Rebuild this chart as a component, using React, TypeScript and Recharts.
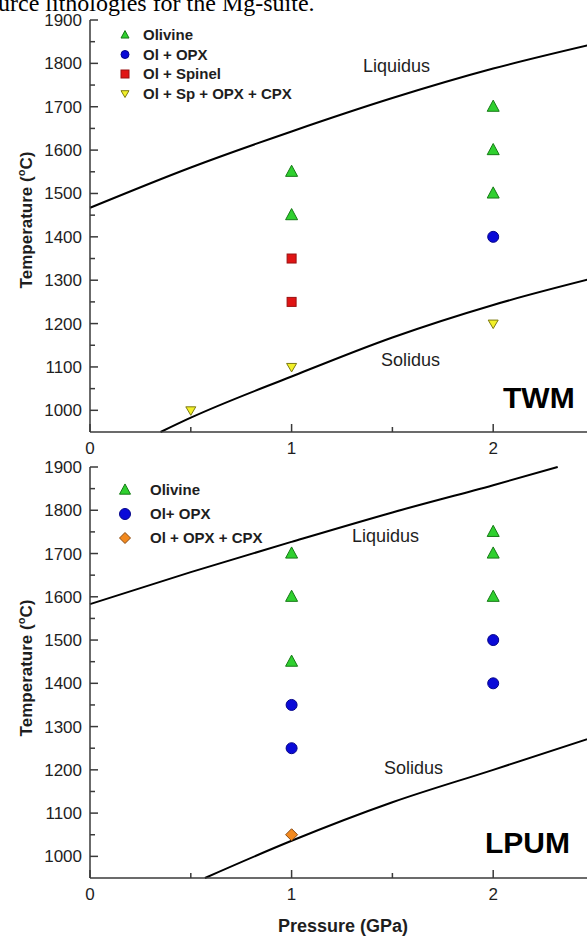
import React from "react";
import { ComposedChart, Line, Scatter, XAxis, YAxis } from "recharts";

// pressure (GPa) / temperature (C)
const X_TICKS = [0, 0.5, 1, 1.5, 2, 2.5];
const Y_TICKS = [1000, 1050, 1100, 1150, 1200, 1250, 1300, 1350, 1400, 1450, 1500, 1550, 1600, 1650, 1700, 1750, 1800, 1850, 1900];

// TWM panel
const twmLiquidus = [
  { p: 0, t: 1467 },
  { p: 0.5, t: 1560 },
  { p: 1, t: 1643 },
  { p: 1.5, t: 1720 },
  { p: 2, t: 1788 },
  { p: 2.5, t: 1845 },
];
const twmSolidus = [
  { p: 0.35, t: 950 },
  { p: 0.5, t: 983 },
  { p: 1, t: 1078 },
  { p: 1.5, t: 1168 },
  { p: 2, t: 1243 },
  { p: 2.5, t: 1305 },
];
const twmOlivine = [
  { p: 1, t: 1550 },
  { p: 1, t: 1450 },
  { p: 2, t: 1700 },
  { p: 2, t: 1600 },
  { p: 2, t: 1500 },
];
const twmOlOpx = [{ p: 2, t: 1400 }];
const twmOlSpinel = [
  { p: 1, t: 1350 },
  { p: 1, t: 1250 },
];
const twmOlSpOpxCpx = [
  { p: 0.5, t: 1000 },
  { p: 1, t: 1100 },
  { p: 2, t: 1200 },
];

// LPUM panel
const lpumLiquidus = [
  { p: 0, t: 1583 },
  { p: 0.5, t: 1657 },
  { p: 1, t: 1727 },
  { p: 1.5, t: 1795 },
  { p: 2, t: 1858 },
  { p: 2.32, t: 1900 },
];
const lpumSolidus = [
  { p: 0.57, t: 950 },
  { p: 1, t: 1036 },
  { p: 1.5, t: 1125 },
  { p: 2, t: 1200 },
  { p: 2.5, t: 1276 },
];
const lpumOlivine = [
  { p: 1, t: 1700 },
  { p: 1, t: 1600 },
  { p: 1, t: 1450 },
  { p: 2, t: 1750 },
  { p: 2, t: 1700 },
  { p: 2, t: 1600 },
];
const lpumOlOpx = [
  { p: 1, t: 1350 },
  { p: 1, t: 1250 },
  { p: 2, t: 1500 },
  { p: 2, t: 1400 },
];
const lpumOlOpxCpx = [{ p: 1, t: 1050 }];

const twmLegend = [
  { name: "Olivine", kind: "up" },
  { name: "Ol + OPX", kind: "circle" },
  { name: "Ol + Spinel", kind: "square" },
  { name: "Ol + Sp + OPX + CPX", kind: "down" },
];
const lpumLegend = [
  { name: "Olivine", kind: "up" },
  { name: "Ol+ OPX", kind: "circle" },
  { name: "Ol + OPX + CPX", kind: "diamond" },
];

const AXIS = "#3a3a3a";
const TEXT = "#1e1e1e";
const FONT = "'Liberation Sans', Arial, sans-serif";

const STYLES: Record<string, { fill: string; stroke: string }> = {
  up: { fill: "#2fd02f", stroke: "#167a16" },
  circle: { fill: "#0a0ad8", stroke: "#05058a" },
  square: { fill: "#e01414", stroke: "#9a1010" },
  down: { fill: "#f2f028", stroke: "#7d7a10" },
  diamond: { fill: "#f2891e", stroke: "#8a4a12" },
};

const Marker = ({ kind, cx, cy, s }: any) => {
  const st = STYLES[kind];
  const common = { fill: st.fill, stroke: st.stroke, strokeWidth: 1 };
  if (kind === "up") {
    const pts = `${cx},${cy - s * 0.55} ${cx - s / 2},${cy + s * 0.38} ${cx + s / 2},${cy + s * 0.38}`;
    return <polygon points={pts} {...common} />;
  }
  if (kind === "down") {
    const pts = `${cx},${cy + s * 0.5} ${cx - s / 2},${cy - s * 0.35} ${cx + s / 2},${cy - s * 0.35}`;
    return <polygon points={pts} {...common} />;
  }
  if (kind === "circle") return <circle cx={cx} cy={cy} r={s / 2} {...common} />;
  if (kind === "square") return <rect x={cx - s / 2} y={cy - s / 2} width={s} height={s} {...common} />;
  const h = s / 2;
  return <polygon points={`${cx},${cy - h} ${cx + h},${cy} ${cx},${cy + h} ${cx - h},${cy}`} {...common} />;
};

const shapeOf = (kind: string, s: number) => (props: any) =>
  <Marker kind={kind} cx={props.cx} cy={props.cy} s={s} />;

// ticks all point into the plot, like Origin does
const BottomTick = ({ x, y, payload }: any) => {
  const major = Number.isInteger(payload.value);
  return (
    <g>
      <line x1={x} y1={y} x2={x} y2={y - (major ? 8 : 5)} stroke={AXIS} strokeWidth={1.5} />
      {major && (
        <text x={x} y={y + 22} textAnchor="middle" fontSize={17} fontFamily={FONT} fill={TEXT}>
          {payload.value}
        </text>
      )}
    </g>
  );
};
const TopTick = ({ x, y, payload }: any) => {
  const major = Number.isInteger(payload.value);
  return <line x1={x} y1={y} x2={x} y2={y + (major ? 8 : 5)} stroke={AXIS} strokeWidth={1.5} />;
};
const LeftTick = ({ x, y, payload }: any) => {
  const major = payload.value % 100 === 0;
  return (
    <g>
      <line x1={x} y1={y} x2={x + (major ? 8 : 5)} y2={y} stroke={AXIS} strokeWidth={1.5} />
      {major && (
        <text x={x - 8} y={y + 6} textAnchor="end" fontSize={17} fontFamily={FONT} fill={TEXT}>
          {payload.value}
        </text>
      )}
    </g>
  );
};
const RightTick = ({ x, y, payload }: any) => {
  const major = payload.value % 100 === 0;
  return <line x1={x} y1={y} x2={x - (major ? 8 : 5)} y2={y} stroke={AXIS} strokeWidth={1.5} />;
};

const axisLine = { stroke: AXIS, strokeWidth: 1.5 };

const Panel = ({ height, liquidus, solidus, points }: any) => (
  <ComposedChart width={600} height={height} margin={{ top: 20, right: 6, bottom: 0, left: 0 }}>
    <XAxis
      dataKey="p"
      type="number"
      domain={[0, 2.5]}
      ticks={X_TICKS}
      interval={0}
      height={38}
      tickSize={0}
      tickMargin={0}
      tickLine={false}
      axisLine={axisLine}
      tick={<BottomTick />}
    />
    <XAxis
      xAxisId="top"
      orientation="top"
      dataKey="p"
      type="number"
      domain={[0, 2.5]}
      ticks={X_TICKS}
      interval={0}
      height={0}
      tickSize={0}
      tickMargin={0}
      tickLine={false}
      axisLine={axisLine}
      tick={<TopTick />}
    />
    <YAxis
      type="number"
      domain={[950, 1900]}
      ticks={Y_TICKS}
      interval={0}
      width={90}
      tickSize={0}
      tickMargin={0}
      tickLine={false}
      axisLine={axisLine}
      tick={<LeftTick />}
    />
    <YAxis
      yAxisId="right"
      orientation="right"
      type="number"
      domain={[950, 1900]}
      ticks={Y_TICKS}
      interval={0}
      width={0}
      tickSize={0}
      tickMargin={0}
      tickLine={false}
      axisLine={axisLine}
      tick={<RightTick />}
    />
    <Line data={liquidus} dataKey="t" type="monotone" stroke="#000" strokeWidth={2} dot={false} isAnimationActive={false} />
    <Line data={solidus} dataKey="t" type="monotone" stroke="#000" strokeWidth={2} dot={false} isAnimationActive={false} />
    {points.map((s: any) => (
      <Scatter key={s.kind} data={s.data} dataKey="t" shape={shapeOf(s.kind, s.size)} isAnimationActive={false} />
    ))}
  </ComposedChart>
);

const Legend = ({ items, x, y, gap, textX, size }: any) => (
  <g>
    {items.map((it: any, i: number) => (
      <g key={it.name}>
        <Marker kind={it.kind} cx={x} cy={y + i * gap} s={size} />
        <text x={textX} y={y + i * gap + 5} fontSize={15} fontWeight="bold" fontFamily={FONT} fill={TEXT}>
          {it.name}
        </text>
      </g>
    ))}
  </g>
);

const YTitle = ({ cy }: any) => (
  <text
    transform={`translate(32,${cy}) rotate(-90)`}
    textAnchor="middle"
    fontSize={17}
    fontWeight="bold"
    fontFamily={FONT}
    fill={TEXT}
  >
    Temperature (<tspan dy={-7} fontSize={11}>o</tspan>
    <tspan dy={7}>C)</tspan>
  </text>
);

export default function App() {
  return (
    <div style={{ position: "relative", width: 587, height: 936, overflow: "hidden", background: "#fff" }}>
      <style>{"body{margin:0}"}</style>
      <div style={{ position: "absolute", left: 0, top: 0 }}>
        <Panel
          height={470}
          liquidus={twmLiquidus}
          solidus={twmSolidus}
          points={[
            { kind: "up", data: twmOlivine, size: 12 },
            { kind: "circle", data: twmOlOpx, size: 11 },
            { kind: "square", data: twmOlSpinel, size: 9 },
            { kind: "down", data: twmOlSpOpxCpx, size: 10 },
          ]}
        />
      </div>
      <div style={{ position: "absolute", left: 0, top: 447 }}>
        <Panel
          height={469}
          liquidus={lpumLiquidus}
          solidus={lpumSolidus}
          points={[
            { kind: "up", data: lpumOlivine, size: 12 },
            { kind: "circle", data: lpumOlOpx, size: 11 },
            { kind: "diamond", data: lpumOlOpxCpx, size: 12 },
          ]}
        />
      </div>
      <svg width={587} height={936} style={{ position: "absolute", left: 0, top: 0, pointerEvents: "none" }}>
        <text x={-2} y={11} fontSize={24} fontFamily="'Liberation Serif', 'Times New Roman', serif" fill="#000">
          urce lithologies for the Mg-suite.
        </text>
        <Legend items={twmLegend} x={125} y={35} gap={19.5} textX={143} size={8} />
        <Legend items={lpumLegend} x={125} y={490} gap={24} textX={150} size={11} />
        <g fontFamily={FONT} fill={TEXT} fontSize={18}>
          <text x={363} y={72}>Liquidus</text>
          <text x={381} y={366}>Solidus</text>
          <text x={352} y={542}>Liquidus</text>
          <text x={384} y={774}>Solidus</text>
        </g>
        <g fontFamily={FONT} fill="#000" fontSize={30} fontWeight="bold">
          <text x={503} y={408}>TWM</text>
          <text x={485} y={853}>LPUM</text>
        </g>
        <YTitle cy={220} />
        <YTitle cy={668} />
        <text x={343} y={932} textAnchor="middle" fontSize={18} fontWeight="bold" fontFamily={FONT} fill={TEXT}>
          Pressure (GPa)
        </text>
      </svg>
    </div>
  );
}
